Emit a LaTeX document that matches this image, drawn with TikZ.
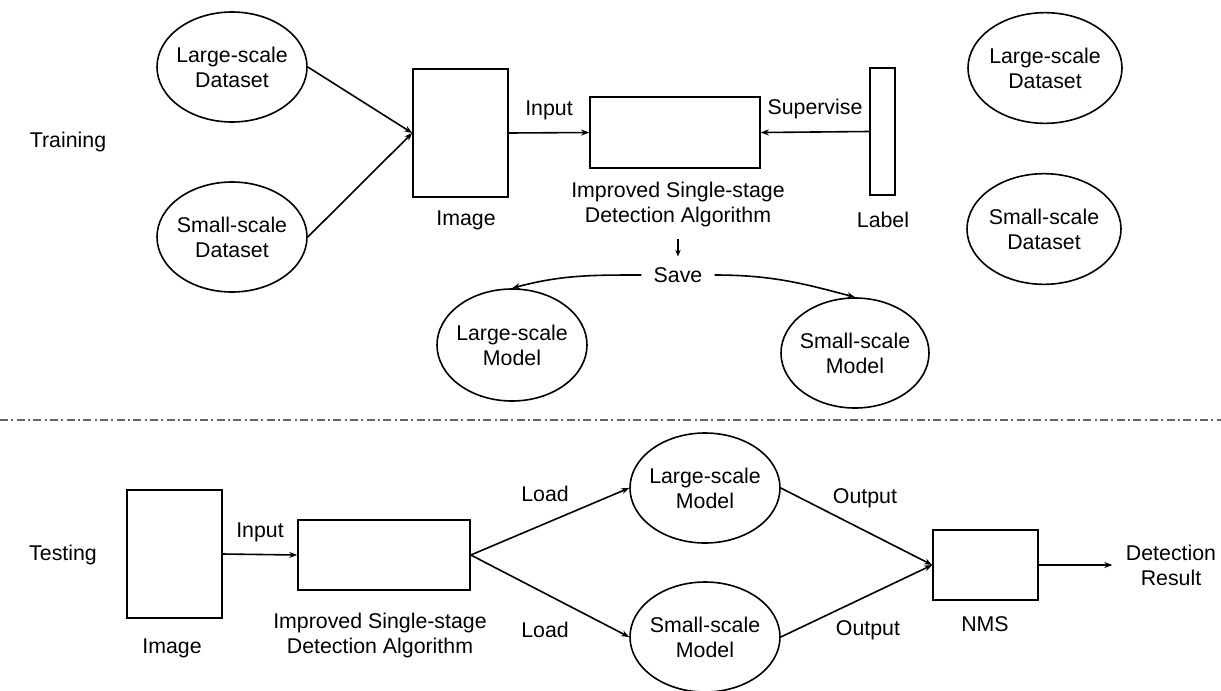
\documentclass[tikz,border=0pt]{standalone}
\usepackage{fontspec}
\setmainfont{Liberation Sans}
\usetikzlibrary{shapes.geometric,arrows.meta}

\begin{document}
\begin{tikzpicture}[x=0.75pt,y=-0.75pt,
  every node/.style={font=\fontsize{16}{18.75}\selectfont, align=center, inner sep=0pt},
  oval/.style={draw, ellipse, line width=1.2pt, inner xsep=-3pt, inner ysep=-3pt,
    minimum width=112.5pt, minimum height=82.5pt},
  box/.style={draw, line width=1.2pt},
  conn/.style={line width=1.2pt, -{Stealth[length=6pt,width=4.5pt]}},
  sep/.style={line width=1pt, gray!80!black, dash pattern=on 6pt off 2.5pt on 1.5pt off 2.5pt},
]
\useasboundingbox (0,0) rectangle (1221,690);

% ---------------- training stage ----------------
\node (train) at (68,142) {Training};

\node[oval] (ld) at (232,67) {Large-scale\\Dataset};
\node[oval] (sd) at (232,237) {Small-scale\\Dataset};

\node[box, minimum width=71.25pt, minimum height=96pt] (img) at (460.5,133) {};
\node (imgtxt) at (466,220) {Image};

\node[box, minimum width=127.5pt, minimum height=53.25pt] (alg) at (675,132.5) {};
\node (algtxt) at (678,204.5) {Improved Single-stage\\Detection Algorithm};

\node[box, minimum width=18.75pt, minimum height=95.25pt] (lab) at (882.5,131.5) {};
\node (labtxt) at (883,220) {Label};

\node[oval, minimum width=115.5pt, minimum height=83pt] (rld) at (1045,68) {Large-scale\\Dataset};
\node[oval, minimum width=115.5pt, minimum height=83pt] (rsd) at (1044,229) {Small-scale\\Dataset};

\node[inner xsep=9pt] (save) at (678,275) {Save};

\node[oval, minimum height=84pt] (lm) at (512,345) {Large-scale\\Model};
\node[oval, minimum width=111pt] (sm) at (855,353) {Small-scale\\Model};

\draw[conn] (ld.east) -- (img.west);
\draw[conn] (sd.east) -- (img.west);
\draw[conn] (img.east) -- node[above=9pt] {Input} (alg.west);
\draw[conn] (lab.west) -- node[above=9pt] {Supervise} (alg.east);
\draw[conn, shorten <=9pt, shorten >=8pt, -{Stealth[length=5pt,width=4pt]}] (algtxt.south) -- (save.north);
\draw[conn] (save.west) to[out=180,in=15] (lm.north);
\draw[conn] (save.east) to[out=0,in=165] (sm.north);

% ---------------- separator ----------------
\coordinate (sl) at (0,420);
\coordinate (sr) at (1221,420);
\draw[sep] (sl) -- (sr);

% ---------------- testing stage ----------------
\node (test) at (63,555) {Testing};

\node[box, minimum width=71.25pt, minimum height=96pt] (bimg) at (174.5,554) {};
\node (bimgtxt) at (172,648) {Image};

\node[box, minimum width=129pt, minimum height=52.5pt] (balg) at (384,555) {};
\node (balgtxt) at (380,635.5) {Improved Single-stage\\Detection Algorithm};

\node[oval] (blm) at (705,488) {Large-scale\\Model};
\node[oval] (bsm) at (705,637) {Small-scale\\Model};

\node[box, minimum width=78.75pt, minimum height=52.5pt] (nms) at (985.5,565) {};
\node (nmstxt) at (985,624) {NMS};

\node (det) at (1171,565) {Detection\\Result};

\draw[conn] (bimg.east) -- node[above=9pt] {Input} (balg.west);
\draw[conn] (balg.east) -- (blm.west);
\draw[conn] (balg.east) -- (bsm.west);
\node at (545,494) {Load};
\node at (545,630) {Load};
\draw[conn] (blm.east) -- (nms.west);
\draw[conn] (bsm.east) -- (nms.west);
\node at (865,498) {Output};
\node at (868,630) {Output};
\draw[conn, shorten >=10pt] (nms.east) -- (det.west);
\end{tikzpicture}
\end{document}
